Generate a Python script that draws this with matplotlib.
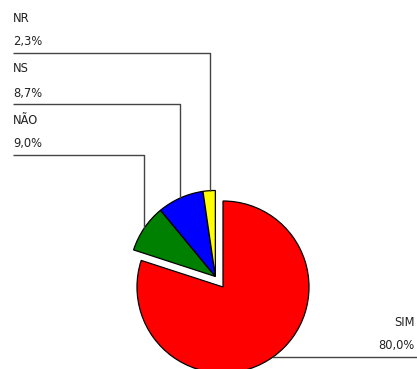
import numpy as np
import matplotlib
matplotlib.use("Agg")
from matplotlib import pyplot as plt

labels = ['SIM', 'NÃO', 'NS', 'NR']
values = [80.0, 9.0, 8.7, 2.3]
colors = ['#ff0000', '#008000', '#0000ff', '#ffff00']

# figure in pixel units (y up)
W, H = 417, 369
fig = plt.figure(figsize=(W / 100, H / 100), dpi=100)
ax = fig.add_axes([0, 0, 1, 1])

R = 86
center = (223, 82)
# the three small answers are pulled out together along their common mid angle
group_mid = np.deg2rad(90 + 360 * sum(values[1:]) / 100 / 2)
shift = 13
center2 = (center[0] + shift * np.cos(group_mid), center[1] + shift * np.sin(group_mid))

wp = dict(edgecolor='black', linewidth=0.9)
w1, _ = ax.pie(values, colors=colors, startangle=90, counterclock=False,
               radius=R, center=center, wedgeprops=wp, frame=True)
w2, _ = ax.pie(values, colors=colors, startangle=90, counterclock=False,
               radius=R, center=center2, wedgeprops=wp, frame=True)
for w in w1[1:]:
    w.set_visible(False)
w2[0].set_visible(False)
ax.set_xlim(0, W)
ax.set_ylim(0, H)
ax.set_aspect('equal')
ax.axis('off')

fmt = lambda v: ('%.1f%%' % v).replace('.', ',')
tc = '#222222'
lc = '#444444'
fs = 8.3

# left labels: NR, NS, NÃO stacked, each with an elbow line down to its slice
left_x = 13
line_y = [316, 265, 214]
line_x = [210, 180, 144]
for lab, v, ly, lx in zip(labels[:0:-1], values[:0:-1], line_y, line_x):
    ax.text(left_x, ly + 35, lab, fontsize=fs, color=tc, va='center', ha='left')
    ax.text(left_x, ly + 11, fmt(v), fontsize=fs, color=tc, va='center', ha='left')
    dx = lx - center2[0]
    bottom = center2[1] + np.sqrt(R ** 2 - dx ** 2)
    ax.plot([left_x, lx, lx], [ly, ly, bottom], color=lc, lw=1, solid_capstyle='butt')

# SIM label at the lower right
sy = 12
dy = sy - center[1]
sx = center[0] + np.sqrt(R ** 2 - dy ** 2)
ax.plot([sx, W], [sy, sy], color=lc, lw=1)
ax.text(W - 2, sy + 35, labels[0], fontsize=fs, color=tc, va='center', ha='right')
ax.text(W - 2, sy + 11, fmt(values[0]), fontsize=fs, color=tc, va='center', ha='right')

fig.savefig('out.png', dpi=100)
